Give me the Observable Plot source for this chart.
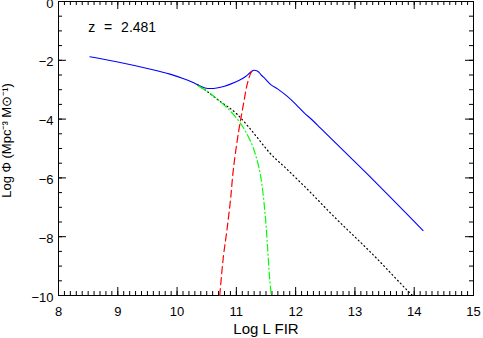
<!DOCTYPE html>
<html>
<head>
<meta charset="utf-8">
<script src="https://cdn.jsdelivr.net/npm/d3@7"></script>
<script src="https://cdn.jsdelivr.net/npm/@observablehq/plot@0.6"></script>
<style>
  html, body { margin: 0; padding: 0; background: #fff; }
  #chart svg { display: block; }
</style>
</head>
<body>
<div id="chart"></div>
<script>
// ---- data ----
const xTicks = [8, 9, 10, 11, 12, 13, 14, 15];
const yTicks = [-10, -8, -6, -4, -2, 0];

// total (blue, solid)
const totalX = [8.53, 9.0, 9.5, 9.88, 10.1, 10.25, 10.39, 10.47, 10.57, 10.67, 10.8, 10.9, 11.05, 11.15, 11.22, 11.26, 11.30, 11.36, 11.42, 11.49, 11.57, 11.7, 11.85, 12.0, 12.14, 12.28, 12.42, 13.32, 14.15];
const totalY = [-1.88, -2.06, -2.28, -2.47, -2.62, -2.74, -2.87, -2.94, -2.96, -2.94, -2.88, -2.81, -2.68, -2.56, -2.44, -2.37, -2.34, -2.37, -2.50, -2.64, -2.81, -2.98, -3.21, -3.49, -3.78, -4.03, -4.31, -6.09, -7.79];

// black dotted
const blackX = [10.35, 10.5, 10.70, 11.01, 11.2, 11.35, 11.55, 11.85, 12.22, 12.59, 13.3, 13.94, 13.97];
const blackY = [-2.84, -3.05, -3.36, -3.83, -4.25, -4.62, -5.12, -5.70, -6.43, -7.20, -8.60, -9.94, -10.0];

// green dash-dot
const greenX = [10.36, 10.56, 10.84, 11.04, 11.15, 11.26, 11.32, 11.38, 11.43, 11.49, 11.53, 11.56, 11.59];
const greenY = [-2.87, -3.13, -3.61, -4.06, -4.40, -4.85, -5.19, -5.64, -6.21, -7.34, -8.47, -9.38, -10.0];

// red dashed
const redX = [10.72, 10.78, 10.84, 10.90, 10.95, 11.04, 11.12, 11.19, 11.26, 11.30];
const redY = [-10.0, -8.70, -7.79, -6.77, -5.70, -4.40, -3.49, -2.76, -2.38, -2.34];

const zLabel = "z = 2.481";
const xLabel = "Log L FIR";
const yLabel = "Log \u03A6 (Mpc\u207B\u00B3 M\u2299\u207B\u00B9)";

const toPts = (X, Y) => X.map((x, i) => ({x, y: Y[i]}));
const total = toPts(totalX, totalY);
const black = toPts(blackX, blackY);
const green = toPts(greenX, greenY);
const red = toPts(redX, redY);

const xMinor = d3.range(80, 151).map(d => d / 10);
const yMinor = d3.range(-20, 1).map(d => d / 2);

const font = "'Liberation Sans', Arial, Helvetica, sans-serif";

const W = 483, H = 338, ML = 58, MR = 10, MT = 1, MB = 43;
const FW = W - ML - MR, FH = H - MT - MB;
const tickMinor = 4, tickMajor = 8;

const chart = Plot.plot({
  width: W,
  height: H,
  marginLeft: ML,
  marginRight: MR,
  marginTop: MT,
  marginBottom: MB,
  style: {fontFamily: font, fontSize: "13px", color: "#000", background: "#fff"},
  x: {domain: [8, 15]},
  y: {domain: [-10, 0]},
  marks: [
    // tick labels
    Plot.axisX({anchor: "bottom", ticks: xTicks, tickSize: 0, tickPadding: 11, tickFormat: d => String(d), label: null, fontSize: 13}),
    Plot.axisY({anchor: "left", ticks: yTicks, tickSize: 0, tickPadding: 5, tickFormat: d => (d < 0 ? "\u2212" + Math.abs(d) : String(d)), label: null, fontSize: 13, dy: 2}),
    // inward ticks on all four sides
    Plot.ruleX(xMinor, {x: d => d, insetTop: FH - tickMinor, stroke: "#000"}),
    Plot.ruleX(xTicks, {x: d => d, insetTop: FH - tickMajor, stroke: "#000"}),
    Plot.ruleX(xMinor, {x: d => d, insetBottom: FH - tickMinor, stroke: "#000"}),
    Plot.ruleX(xTicks, {x: d => d, insetBottom: FH - tickMajor, stroke: "#000"}),
    Plot.ruleY(yMinor, {y: d => d, insetRight: FW - tickMinor, stroke: "#000"}),
    Plot.ruleY(yTicks, {y: d => d, insetRight: FW - tickMajor, stroke: "#000"}),
    Plot.ruleY(yMinor, {y: d => d, insetLeft: FW - tickMinor, stroke: "#000"}),
    Plot.ruleY(yTicks, {y: d => d, insetLeft: FW - tickMajor, stroke: "#000"}),
    Plot.frame({stroke: "#000", strokeWidth: 1}),
    // curves
    Plot.line(total, {x: "x", y: "y", stroke: "#0000ff", strokeWidth: 1.1, curve: "monotone-x"}),
    Plot.line(black, {x: "x", y: "y", stroke: "#000", strokeWidth: 1.2, strokeDasharray: "1,3", curve: "monotone-x"}),
    Plot.line(green, {x: "x", y: "y", stroke: "#00ff00", strokeWidth: 1.2, strokeDasharray: "7,3,1,3", curve: "catmull-rom"}),
    Plot.line(red, {x: "x", y: "y", stroke: "#ff0000", strokeWidth: 1.2, strokeDasharray: "7,4", curve: "catmull-rom"}),
    // texts
    Plot.text([zLabel], {x: 8.5, y: -0.87, text: d => d, textAnchor: "start", fontSize: 14}),
    Plot.text([xLabel], {frameAnchor: "bottom", dy: 34, text: d => d, fontSize: 15, textAnchor: "middle", lineAnchor: "middle"}),
    Plot.text([yLabel], {frameAnchor: "left", dx: -52, dy: -8, rotate: -90, text: d => d, fontSize: 13, textAnchor: "middle", lineAnchor: "middle"})
  ]
});

document.getElementById("chart").appendChild(chart);
d3.select(chart).selectAll("text").filter(function () { return this.textContent === zLabel; })
  .style("word-spacing", "5px");
</script>
</body>
</html>
